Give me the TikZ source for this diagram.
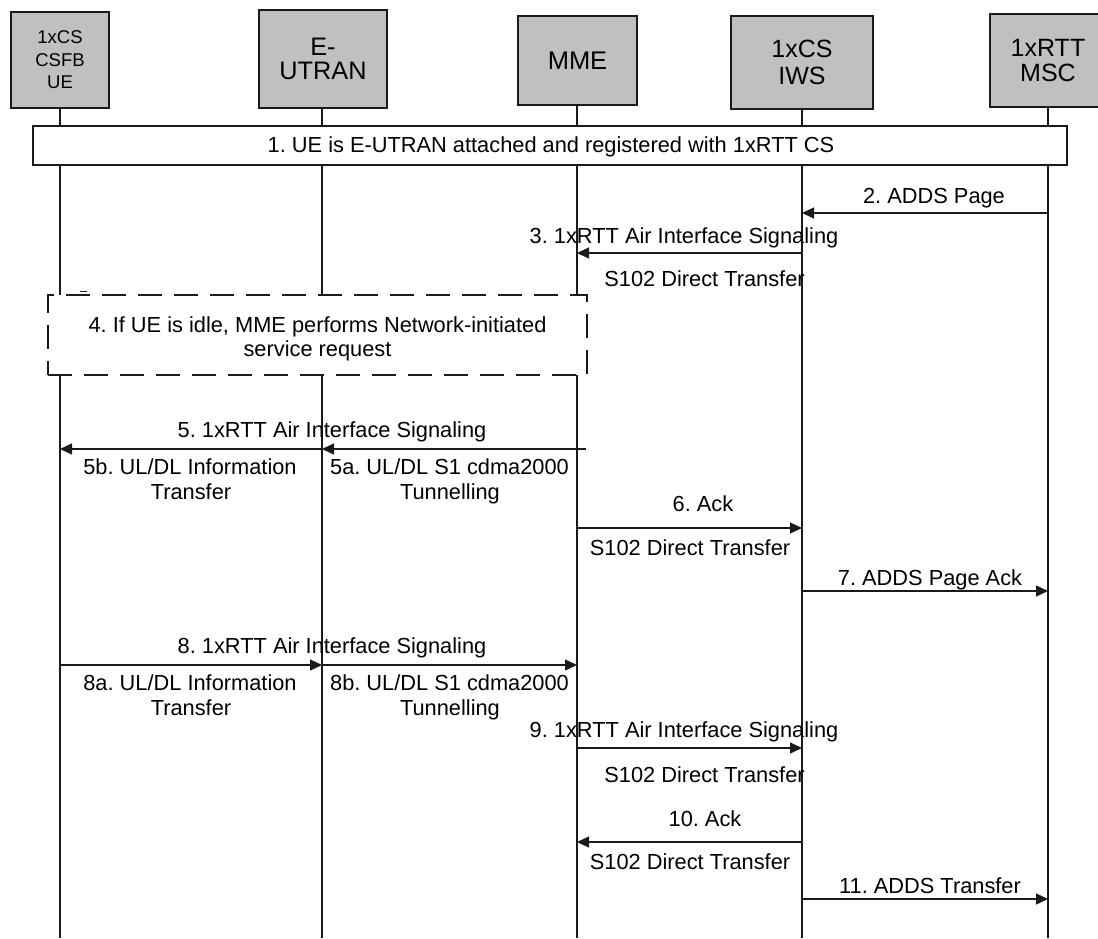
\documentclass[tikz,border=0pt]{standalone}
\usepackage{fontspec}
\setmainfont{Liberation Sans}
\frenchspacing
\usetikzlibrary{arrows.meta}
\definecolor{boxgray}{HTML}{C0C0C0}
\definecolor{ink}{HTML}{1A1A1A}
\tikzset{
  head/.style={draw=ink, line width=1.6pt, fill=boxgray, inner sep=0pt, align=center, text=black},
  life/.style={draw=ink, line width=1.3pt},
  msg/.style={draw=ink, line width=1.3pt, -{Triangle[length=12pt,width=11pt]}},
  plainmsg/.style={draw=ink, line width=1.3pt},
  lbl/.style={anchor=base, inner sep=0pt, text=black, font=\fontsize{21.8}{25}\selectfont},
  notebox/.style={draw=ink, line width=1.6pt, fill=white, inner sep=0pt},
  dashbox/.style={draw=ink, line width=1.3pt, fill=white, inner sep=0pt, dash pattern=on 24pt off 12pt},
}
\begin{document}
\begin{tikzpicture}[x=1pt,y=-1pt]
\useasboundingbox (0,0) rectangle (1098,938);
% lifeline coordinates
\coordinate (Lue) at (60,108);   \coordinate (Bue) at (60,938);
\coordinate (Lenb) at (322,108); \coordinate (Benb) at (322,938);
\coordinate (Lmme) at (577,105); \coordinate (Bmme) at (577,938);
\coordinate (Liws) at (802,109); \coordinate (Biws) at (802,938);
\coordinate (Lmsc) at (1048,107);\coordinate (Bmsc) at (1048,938);
% lifelines
\draw[life] (Lue) -- (Bue);
\draw[life] (Lenb) -- (Benb);
\draw[life] (Lmme) -- (Bmme);
\draw[life] (Liws) -- (Biws);
\draw[life] (Lmsc) -- (Bmsc);
% heads
\node[head, minimum width=98pt, minimum height=96pt, font=\fontsize{18.5}{22.5}\selectfont] (ue) at (60,60) {1xCS\\CSFB\\UE};
\node[head, minimum width=128pt, minimum height=98pt, font=\fontsize{25.3}{23.5}\selectfont] (enb) at (323,59) {E-\\UTRAN};
\node[head, minimum width=119pt, minimum height=89pt, font=\fontsize{25.5}{30}\selectfont] (mme) at (577.5,60.5) {MME};
\node[head, minimum width=142pt, minimum height=93pt, font=\fontsize{25}{27}\selectfont] (iws) at (802,62.5) {1xCS\\IWS};
\node[head, minimum width=116pt, minimum height=93pt, font=\fontsize{25}{25}\selectfont] (msc) at (1048,60.5) {1xRTT\\MSC};
% step 1 box
\node[notebox, minimum width=1034pt, minimum height=39pt] (s1) at (550,145.5) {};
\node[lbl] (t1) at (551,152.5) {1. UE is E-UTRAN attached and registered with 1xRTT CS};
% step 4 dashed box
\node[dashbox, minimum width=539pt, minimum height=80pt] (s4) at (317.5,335) {};
\node[lbl] (t4a) at (317.5,332) {4. If UE is idle, MME performs Network-initiated};
\node[lbl] (t4b) at (317.5,356) {service request};
\draw[plainmsg] (80,291.5) -- (87,291.5);
% message rows
\coordinate (r2) at (0,213);
\coordinate (r3) at (0,253);
\coordinate (r5) at (0,449);
\coordinate (r5s) at (586,449);
\coordinate (r6) at (0,528);
\coordinate (r7) at (0,591);
\coordinate (r8) at (0,665);
\coordinate (r9) at (0,748);
\coordinate (r10) at (0,842);
\coordinate (r11) at (0,899);
% messages
\draw[msg] (Lmsc |- r2) -- (Liws |- r2);
\draw[msg] (Liws |- r3) -- (Lmme |- r3);
\draw[msg] (r5s) -- (Lenb |- r5);
\draw[msg] (Lenb |- r5) -- (Lue |- r5);
\draw[msg] (Lmme |- r6) -- (Liws |- r6);
\draw[msg] (Liws |- r7) -- (Lmsc |- r7);
\draw[msg] (Lue |- r8) -- (Lenb |- r8);
\draw[msg] (Lenb |- r8) -- (Lmme |- r8);
\draw[msg] (Lmme |- r9) -- (Liws |- r9);
\draw[msg] (Liws |- r10) -- (Lmme |- r10);
\draw[msg] (Liws |- r11) -- (Lmsc |- r11);
% labels
\node[lbl] (t2) at (934,203) {2. ADDS Page};
\node[lbl] (t3a) at (684,243) {3. 1xRTT Air Interface Signaling};
\node[lbl] (t3b) at (704.5,286) {S102 Direct Transfer};
\node[lbl] (t5) at (332,437) {5. 1xRTT Air Interface Signaling};
\node[lbl] (t5b1) at (190,474) {5b. UL/DL Information};
\node[lbl] (t5b2) at (191,499) {Transfer};
\node[lbl] (t5a1) at (449.5,474) {5a. UL/DL S1 cdma2000};
\node[lbl] (t5a2) at (450,499) {Tunnelling};
\node[lbl] (t6a) at (703,511) {6. Ack};
\node[lbl] (t6b) at (690,555) {S102 Direct Transfer};
\node[lbl] (t7) at (930,585) {7. ADDS Page Ack};
\node[lbl] (t8) at (332,653) {8. 1xRTT Air Interface Signaling};
\node[lbl] (t8a1) at (190,690) {8a. UL/DL Information};
\node[lbl] (t8a2) at (191,715) {Transfer};
\node[lbl] (t8b1) at (449.5,690) {8b. UL/DL S1 cdma2000};
\node[lbl] (t8b2) at (450,715) {Tunnelling};
\node[lbl] (t9a) at (684,737) {9. 1xRTT Air Interface Signaling};
\node[lbl] (t9b) at (704.5,782) {S102 Direct Transfer};
\node[lbl] (t10a) at (705,826) {10. Ack};
\node[lbl] (t10b) at (690,869) {S102 Direct Transfer};
\node[lbl] (t11) at (930,893) {11. ADDS Transfer};
\end{tikzpicture}
\end{document}
